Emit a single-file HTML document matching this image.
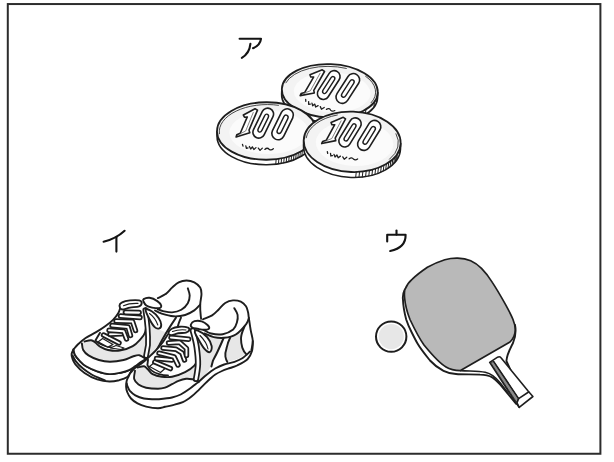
<!DOCTYPE html>
<html><head><meta charset="utf-8">
<style>
html,body{margin:0;padding:0;background:#fff;}
body{width:614px;height:462px;overflow:hidden;font-family:"Liberation Sans",sans-serif;}
svg{display:block;filter:blur(0.45px);}
.k{fill:none;stroke:#1e1e1e;stroke-width:1.6;stroke-linecap:round;stroke-linejoin:round;}
.w{fill:#fff;stroke:#1e1e1e;stroke-width:1.6;stroke-linecap:round;stroke-linejoin:round;}
.g{fill:#e4e4e4;stroke:#1e1e1e;stroke-width:1.6;stroke-linecap:round;stroke-linejoin:round;}
.t{fill:none;stroke:#1e1e1e;stroke-width:0.8;stroke-linecap:round;stroke-linejoin:round;}
.lab{fill:none;stroke:#141414;stroke-width:2.1;stroke-linecap:round;stroke-linejoin:round;}
#shoes .k,#shoes .w{stroke-width:1.9;}
</style></head>
<body>
<svg width="614" height="462" viewBox="0 0 614 462">
<rect x="0" y="0" width="614" height="462" fill="#fff"/>
<!-- frame -->
<rect x="7.8" y="4.05" width="592.6" height="449.7" fill="none" stroke="#2c2c2c" stroke-width="2"/>

<!-- labels -->
<g id="labels" class="lab">
<path d="M239.6 38.8 H261 C260.5 43 257 46.5 253 48.2"/>
<path d="M250.4 43.8 C249.8 50 246.5 55 241.8 57.8"/>
<path d="M124.6 230.8 C119 236 111 240 103.6 241.8"/>
<path d="M116.4 237.2 V251.6"/>
<path d="M396.5 230.5 V234.6"/>
<path d="M387.2 241.4 V234.8 H405.6 C405.8 242.5 401 248.8 390.2 251"/>
</g>

<!-- COINS -->
<g id="coins">
<g transform="translate(329.8 90.8) rotate(2.2)">
<path class="w" d="M-48 0 V5 A48 26.7 0 0 0 48 5 V0 Z"/>
<path class="t" style="stroke-width:1" d="M45.1 9.1 l-0.4 5.0 M36.8 17.2 l-0.4 5.0 M24.0 23.1 l-0.4 5.0 "/>
<ellipse cx="0" cy="0" rx="48" ry="26.7" fill="#f3f3f3" stroke="#1e1e1e" stroke-width="1.8"/>
<ellipse cx="2.4000000000000004" cy="1.335" rx="38.400000000000006" ry="20.025" fill="#fbfbfb" stroke="none"/>
<path class="t" d="M-44.2 -6.3 A45.8 24.5 0 0 1 15.7 -23.0"/>
<path class="t" d="M35.2 -15.9 A46.0 24.7 0 0 1 41.7 10.4"/>

<g transform="translate(-1.3 -5.7) rotate(7) scale(1.0)"><path d="M-20.2 -7.2 L-8.8 -14 L-6.3 -12.7 L-13.9 7.6 L-13 10.1 L-26.5 15 L-25.9 12.8 L-22.5 11.1 L-16.2 -5.5 L-19 -5.1 Z" fill="#fff" stroke="#1e1e1e" stroke-width="1.6" stroke-linejoin="round"/><path d="M-10.3 -10.6 L-17.2 8.6 L-23 11.9" fill="none" stroke="#555" stroke-width="0.7"/><g transform="translate(0 0) rotate(23.5)"><rect x="-5.9" y="-16.0" width="11.8" height="32" rx="5.9" ry="5.9" fill="#fff" stroke="#1e1e1e" stroke-width="1.6"/><rect x="-2.0" y="-9.75" width="4.0" height="19.5" rx="2.0" ry="2.6" fill="#fff" stroke="#1e1e1e" stroke-width="1.4"/></g><g transform="translate(19.4 0.3) rotate(23.5)"><rect x="-6.3" y="-16.5" width="12.6" height="33" rx="6.3" ry="6.3" fill="#fff" stroke="#1e1e1e" stroke-width="1.6"/><rect x="-2.2" y="-10.0" width="4.4" height="20" rx="2.2" ry="2.8600000000000003" fill="#fff" stroke="#1e1e1e" stroke-width="1.4"/></g><path class="t" transform="translate(-1 -3) rotate(6 -8 25)" style="stroke-width:1.3" d="M-19.8 22.1 l0.6 1.8 M-16.4 23.4 l0.7 2.6 l1.6 -0.6 M-12.8 24 l1.4 2.4 l1.6 -2.2 l1.6 2.6 l2 -2 M-3.8 25.2 l1.8 2.2 l2.2 -2.4 M2.8 26.2 c1.5 -1.6 3 -1.6 4.2 -0.4 c1.4 1 3 0.6 4.2 -0.6"/></g>
</g>
<g transform="translate(266.5 131) rotate(-0.5)">
<path class="w" d="M-49.5 0 V5 A49.5 28.75 0 0 0 49.5 5 V0 Z"/>
<path class="t" style="stroke-width:1" d="M35.6 20.0 l-0.4 5.0 M33.6 21.1 l-0.4 5.0 M31.6 22.1 l-0.4 5.0 M29.4 23.1 l-0.4 5.0 M27.2 24.0 l-0.4 5.0 M24.8 24.9 l-0.4 5.0 M22.4 25.6 l-0.4 5.0 M19.9 26.3 l-0.4 5.0 M17.4 26.9 l-0.4 5.0 M14.8 27.4 l-0.4 5.0 M12.1 27.9 l-0.4 5.0 M9.4 28.2 l-0.4 5.0 "/>
<ellipse cx="0" cy="0" rx="49.5" ry="28.75" fill="#f3f3f3" stroke="#1e1e1e" stroke-width="1.8"/>
<ellipse cx="2.475" cy="1.4375" rx="39.6" ry="21.5625" fill="#fbfbfb" stroke="none"/>
<path class="t" d="M-47.1 2.3 A47.3 26.55 0 0 1 12.2 -25.6"/>

<g transform="translate(-3.2 -7.9) rotate(3) scale(1.0)"><path d="M-20.2 -7.2 L-8.8 -14 L-6.3 -12.7 L-13.9 7.6 L-13 10.1 L-26.5 15 L-25.9 12.8 L-22.5 11.1 L-16.2 -5.5 L-19 -5.1 Z" fill="#fff" stroke="#1e1e1e" stroke-width="1.6" stroke-linejoin="round"/><path d="M-10.3 -10.6 L-17.2 8.6 L-23 11.9" fill="none" stroke="#555" stroke-width="0.7"/><g transform="translate(0 0) rotate(23.5)"><rect x="-5.9" y="-16.0" width="11.8" height="32" rx="5.9" ry="5.9" fill="#fff" stroke="#1e1e1e" stroke-width="1.6"/><rect x="-2.0" y="-9.75" width="4.0" height="19.5" rx="2.0" ry="2.6" fill="#fff" stroke="#1e1e1e" stroke-width="1.4"/></g><g transform="translate(19.4 0.3) rotate(23.5)"><rect x="-6.3" y="-16.5" width="12.6" height="33" rx="6.3" ry="6.3" fill="#fff" stroke="#1e1e1e" stroke-width="1.6"/><rect x="-2.2" y="-10.0" width="4.4" height="20" rx="2.2" ry="2.8600000000000003" fill="#fff" stroke="#1e1e1e" stroke-width="1.4"/></g><path class="t" transform="" style="stroke-width:1.3" d="M-19.8 22.1 l0.6 1.8 M-16.4 23.4 l0.7 2.6 l1.6 -0.6 M-12.8 24 l1.4 2.4 l1.6 -2.2 l1.6 2.6 l2 -2 M-3.8 25.2 l1.8 2.2 l2.2 -2.4 M2.8 26.2 c1.5 -1.6 3 -1.6 4.2 -0.4 c1.4 1 3 0.6 4.2 -0.6"/></g>
</g>
<g transform="translate(352.2 141.8) rotate(2)">
<path class="w" d="M-48.5 0 V5.5 A48.5 30.2 0 0 0 48.5 5.5 V0 Z"/>
<path class="t" style="stroke-width:1" d="M45.6 10.3 l-0.4 5.5 M44.3 12.3 l-0.4 5.5 M42.8 14.2 l-0.4 5.5 M41.1 16.0 l-0.4 5.5 M39.2 17.8 l-0.4 5.5 M37.2 19.4 l-0.4 5.5 M34.9 21.0 l-0.4 5.5 M32.5 22.4 l-0.4 5.5 M29.9 23.8 l-0.4 5.5 M27.1 25.0 l-0.4 5.5 M24.3 26.2 l-0.4 5.5 M21.3 27.1 l-0.4 5.5 M18.2 28.0 l-0.4 5.5 M15.0 28.7 l-0.4 5.5 M11.7 29.3 l-0.4 5.5 M8.4 29.7 l-0.4 5.5 M5.1 30.0 l-0.4 5.5 "/>
<ellipse cx="0" cy="0" rx="48.5" ry="30.2" fill="#f3f3f3" stroke="#1e1e1e" stroke-width="1.8"/>
<ellipse cx="2.4250000000000003" cy="1.51" rx="38.800000000000004" ry="22.65" fill="#fbfbfb" stroke="none"/>
<path class="t" d="M-46.1 -2.4 A46.3 28.0 0 0 1 -15.8 -26.3"/>
<path class="t" d="M43.5 -9.6 A46.3 28.0 0 0 1 37.9 16.1"/>

<g transform="translate(-2.5 -9.3) rotate(6) scale(1.0)"><path d="M-20.2 -7.2 L-8.8 -14 L-6.3 -12.7 L-13.9 7.6 L-13 10.1 L-26.5 15 L-25.9 12.8 L-22.5 11.1 L-16.2 -5.5 L-19 -5.1 Z" fill="#fff" stroke="#1e1e1e" stroke-width="1.6" stroke-linejoin="round"/><path d="M-10.3 -10.6 L-17.2 8.6 L-23 11.9" fill="none" stroke="#555" stroke-width="0.7"/><g transform="translate(0 0) rotate(23.5)"><rect x="-5.9" y="-16.0" width="11.8" height="32" rx="5.9" ry="5.9" fill="#fff" stroke="#1e1e1e" stroke-width="1.6"/><rect x="-2.0" y="-9.75" width="4.0" height="19.5" rx="2.0" ry="2.6" fill="#fff" stroke="#1e1e1e" stroke-width="1.4"/></g><g transform="translate(19.4 0.3) rotate(23.5)"><rect x="-6.3" y="-16.5" width="12.6" height="33" rx="6.3" ry="6.3" fill="#fff" stroke="#1e1e1e" stroke-width="1.6"/><rect x="-2.2" y="-10.0" width="4.4" height="20" rx="2.2" ry="2.8600000000000003" fill="#fff" stroke="#1e1e1e" stroke-width="1.4"/></g><path class="t" transform="" style="stroke-width:1.3" d="M-19.8 22.1 l0.6 1.8 M-16.4 23.4 l0.7 2.6 l1.6 -0.6 M-12.8 24 l1.4 2.4 l1.6 -2.2 l1.6 2.6 l2 -2 M-3.8 25.2 l1.8 2.2 l2.2 -2.4 M2.8 26.2 c1.5 -1.6 3 -1.6 4.2 -0.4 c1.4 1 3 0.6 4.2 -0.6"/></g>
</g>
</g>

<!-- SHOES -->
<g id="shoes" style="stroke-width:1.7">
<g id="backshoe">
<path d="M73.5 349.5 C74.2 348.7 75.8 346.4 77.8 344.5 C79.8 342.6 82.5 340.1 85.6 338.0 C88.6 335.9 92.8 334.1 96.1 332.1 C99.4 330.2 102.4 328.4 105.2 326.3 C108.0 324.2 110.8 322.0 113.0 319.8 C115.2 317.6 117.0 315.2 118.2 313.2 C119.4 311.2 118.2 310.1 120.2 308.0 C122.2 305.9 126.1 301.8 130.0 300.4 C133.9 299.0 139.0 299.9 143.6 299.5 C148.2 299.1 154.1 299.0 157.8 298.1 C161.5 297.2 163.2 295.9 165.6 294.1 C168.0 292.4 169.9 289.6 172.1 287.6 C174.3 285.7 176.3 283.6 178.7 282.4 C181.1 281.2 183.9 280.5 186.5 280.5 C189.1 280.5 192.0 281.2 194.3 282.4 C196.6 283.6 199.0 285.7 200.2 287.6 C201.4 289.6 201.5 291.3 201.5 294.1 C201.5 296.9 200.3 300.9 200.2 304.6 C200.1 308.3 200.3 312.1 200.8 316.3 C201.3 320.5 202.3 325.2 203.0 330.0 C203.7 334.8 207.2 340.0 205.0 345.0 C202.8 350.0 196.7 355.5 190.0 360.0 C183.3 364.5 173.3 369.3 165.0 372.0 C156.7 374.7 144.2 375.3 140.0 376.0 L119 380.2 L97 379.4 L84.5 373 L72.4 358.5 Z" fill="#fff" stroke="none"/>
<path class="w" d="M73.5 349.5 C73.2 350.2 71.8 352.5 71.6 354.0 C71.4 355.5 71.8 356.8 72.4 358.5 C73.0 360.2 73.4 361.9 75.4 364.3 C77.4 366.7 80.9 370.5 84.5 373.0 C88.1 375.5 93.0 378.0 97.2 379.4 C101.4 380.8 105.7 381.4 109.4 381.5 C113.1 381.6 116.2 380.9 119.2 380.2 C122.2 379.4 125.3 378.4 127.3 377.0 C129.3 375.6 130.4 372.4 131.0 371.5 L135 366.4 L146 358.8  C145.1 359.4 142.3 361.0 140.5 362.3 C138.7 363.6 136.9 365.1 135.0 366.4 C133.1 367.7 131.2 369.2 129.0 370.2 C126.8 371.2 124.9 371.9 121.6 372.5 C118.3 373.1 113.5 374.3 109.4 374.1 C105.3 373.9 101.1 372.6 97.2 371.3 C93.3 370.0 89.0 368.1 86.0 366.3 C83.0 364.5 81.1 362.3 79.3 360.4 C77.5 358.5 76.0 356.8 75.0 355.0 C74.0 353.2 73.8 350.4 73.5 349.5 Z" />
<path class="k" d="M72.6 355.5 C73.1 356.4 73.8 358.6 75.5 360.8 C77.2 363.0 80.2 366.3 83.0 368.6 C85.8 370.9 89.3 373.2 92.0 374.8 C94.7 376.4 96.8 377.1 99.0 378.0 C101.2 378.9 104.0 380.0 105.0 380.4" />
<path d="M73.5 349.5 C73.8 350.4 74.0 353.2 75.0 355.0 C76.0 356.8 77.5 358.5 79.3 360.4 C81.1 362.3 83.0 364.5 86.0 366.3 C89.0 368.1 93.3 370.0 97.2 371.3 C101.1 372.6 105.3 373.9 109.4 374.1 C113.5 374.3 118.3 373.1 121.6 372.5 C124.9 371.9 126.8 371.2 129.0 370.2 C131.2 369.2 133.1 367.7 135.0 366.4 C136.9 365.1 138.7 363.6 140.5 362.3 C142.3 361.0 145.1 359.4 146.0 358.8 L146.9 321 L120.2 308  C119.9 308.9 119.4 311.2 118.2 313.2 C117.0 315.2 115.2 317.6 113.0 319.8 C110.8 322.0 108.0 324.2 105.2 326.3 C102.4 328.4 99.4 330.2 96.1 332.1 C92.8 334.1 88.6 335.9 85.6 338.0 C82.5 340.1 79.8 342.6 77.8 344.5 C75.8 346.4 74.2 348.7 73.5 349.5 Z" fill="#fff" stroke="none"/>
<path d="M81.9 343.5 C82.1 344.6 82.1 348.0 83.2 350.0 C84.3 352.0 85.9 353.7 88.5 355.4 C91.1 357.1 95.3 358.9 98.9 360.0 C102.5 361.1 105.9 361.7 110.0 361.7 C114.1 361.7 119.8 360.9 123.6 360.0 C127.4 359.1 130.2 357.3 132.8 356.5 C135.4 355.7 137.2 354.8 139.3 355.2 C141.5 355.6 144.6 358.2 145.7 358.8 L147.5 340 L146.9 321  C146.6 323.0 146.0 329.8 144.9 332.8 C143.8 335.9 142.4 337.1 140.4 339.3 C138.4 341.5 136.2 344.2 132.8 346.1 C129.4 348.0 123.8 350.0 119.7 350.6 C115.6 351.2 111.2 350.6 108.0 350.0 C104.8 349.4 102.3 347.9 100.2 346.7 C98.1 345.5 97.1 343.9 95.6 342.8 C94.1 341.7 92.9 340.4 91.1 340.2 C89.2 340.0 85.6 341.3 84.5 341.5 Z" fill="#e7e7e7" stroke="none"/>
<path class="k" d="M84.5 341.5 C85.6 341.3 89.2 340.0 91.1 340.2 C92.9 340.4 94.1 341.7 95.6 342.8 C97.1 343.9 98.1 345.5 100.2 346.7 C102.3 347.9 104.8 349.4 108.0 350.0 C111.2 350.6 115.6 351.2 119.7 350.6 C123.8 350.0 129.4 348.0 132.8 346.1 C136.2 344.2 138.4 341.5 140.4 339.3 C142.4 337.1 143.8 335.9 144.9 332.8 C146.0 329.8 146.6 323.0 146.9 321.0" />
<path class="k" d="M81.9 343.5 C82.1 344.6 82.1 348.0 83.2 350.0 C84.3 352.0 85.9 353.7 88.5 355.4 C91.1 357.1 95.3 358.9 98.9 360.0 C102.5 361.1 105.9 361.7 110.0 361.7 C114.1 361.7 119.8 360.9 123.6 360.0 C127.4 359.1 130.2 357.3 132.8 356.5 C135.4 355.7 137.2 354.8 139.3 355.2 C141.5 355.6 144.6 358.2 145.7 358.8" />
<path class="k" d="M73.5 349.5 C73.8 350.4 74.0 353.2 75.0 355.0 C76.0 356.8 77.5 358.5 79.3 360.4 C81.1 362.3 83.0 364.5 86.0 366.3 C89.0 368.1 93.3 370.0 97.2 371.3 C101.1 372.6 105.3 373.9 109.4 374.1 C113.5 374.3 118.3 373.1 121.6 372.5 C124.9 371.9 126.8 371.2 129.0 370.2 C131.2 369.2 133.1 367.7 135.0 366.4 C136.9 365.1 138.7 363.6 140.5 362.3 C142.3 361.0 145.1 359.4 146.0 358.8" />
<path class="k" d="M73.5 349.5 C74.2 348.7 75.8 346.4 77.8 344.5 C79.8 342.6 82.5 340.1 85.6 338.0 C88.6 335.9 92.8 334.1 96.1 332.1 C99.4 330.2 102.4 328.4 105.2 326.3 C108.0 324.2 110.8 322.0 113.0 319.8 C115.2 317.6 117.0 315.2 118.2 313.2 C119.4 311.2 119.9 308.9 120.2 308.0" />
<path d="M148 311 L160 313.5 L168 316.3 L176 317.6 L169.2 327.4 L163.3 336.2 L159.4 345 L155 352 L147 357 L148.5 345 L148.5 331 Z" fill="#e7e7e7" stroke="none"/>
<path d="M157.8 298.1 C159.1 297.4 163.2 295.9 165.6 294.1 C168.0 292.4 169.9 289.6 172.1 287.6 C174.3 285.7 176.3 283.6 178.7 282.4 C181.1 281.2 183.9 280.5 186.5 280.5 C189.1 280.5 192.0 281.2 194.3 282.4 C196.6 283.6 199.0 285.7 200.2 287.6 C201.4 289.6 201.5 291.3 201.5 294.1 C201.5 296.9 200.3 300.9 200.2 304.6 C200.1 308.3 200.3 312.1 200.8 316.3 C201.3 320.5 202.6 327.7 203.0 330.0 L185 340 L160 330 L150 312 Z" fill="#fff" stroke="none"/>
<path class="k" d="M157.8 298.1 C159.1 297.4 163.2 295.9 165.6 294.1 C168.0 292.4 169.9 289.6 172.1 287.6 C174.3 285.7 176.3 283.6 178.7 282.4 C181.1 281.2 183.9 280.5 186.5 280.5 C189.1 280.5 192.0 281.2 194.3 282.4 C196.6 283.6 199.0 285.7 200.2 287.6 C201.4 289.6 201.5 291.3 201.5 294.1 C201.5 296.9 200.3 300.9 200.2 304.6 C200.1 308.3 200.3 312.1 200.8 316.3 C201.3 320.5 202.6 327.7 203.0 330.0" />
<path class="k" d="M187.8 288.3 C188.1 289.5 189.7 293.0 189.7 295.5 C189.7 298.0 189.2 300.9 187.8 303.3 C186.4 305.7 183.9 308.3 181.3 309.8 C178.7 311.3 175.2 312.2 172.1 312.4 C169.0 312.6 165.4 311.6 163.0 311.1 C160.6 310.6 158.7 309.6 157.8 309.3" />
<path class="k" d="M200.2 304.6 C199.2 305.6 196.8 308.7 194.3 310.4 C191.8 312.1 188.7 314.0 185.2 315.0 C181.7 316.0 177.4 316.5 173.5 316.3 C169.6 316.1 164.8 314.7 161.7 313.7 C158.6 312.7 156.1 311.0 155.0 310.5" />
<path class="k" d="M176 317.6 C171 325 165 334 159.4 345 L155 353" />
<path class="k" d="M181 317.6 C179.5 321 178 324.4 177.5 328" />
<path class="k" d="M100 332.8 L95.4 340.6 C100 345 108 347.5 122.1 349.1" />
<path class="w" d="M98 341.9 L102.6 338.6 L113 344.5 L107.8 347.1 Z" style="stroke-width:1.2"/>
<path class="w" d="M110.5 348 L116 345.5 L124 348 L121 349.5 Z" style="stroke-width:1.2"/>
<path d="M103.5 335 L119 343" stroke="#1e1e1e" stroke-width="5.4" stroke-linecap="round" fill="none"/><path d="M103.5 335 L119 343" stroke="#fff" stroke-width="1.9" stroke-linecap="round" fill="none"/>
<path d="M110 334.2 L121.5 333.8" stroke="#1e1e1e" stroke-width="5.4" stroke-linecap="round" fill="none"/><path d="M110 334.2 L121.5 333.8" stroke="#fff" stroke-width="1.9" stroke-linecap="round" fill="none"/>
<path d="M109 330.2 L123.5 331.2 L126.5 339" stroke="#1e1e1e" stroke-width="5.4" stroke-linecap="round" stroke-linejoin="round" fill="none"/><path d="M109 330.2 L123.5 331.2 L126.5 339" stroke="#fff" stroke-width="1.9" stroke-linecap="round" stroke-linejoin="round" fill="none"/>
<path d="M112 325.5 L128 327 L130.5 335.5" stroke="#1e1e1e" stroke-width="5.4" stroke-linecap="round" stroke-linejoin="round" fill="none"/><path d="M112 325.5 L128 327 L130.5 335.5" stroke="#fff" stroke-width="1.9" stroke-linecap="round" stroke-linejoin="round" fill="none"/>
<path d="M116 321 L132.5 321.5 L135.5 330.5" stroke="#1e1e1e" stroke-width="5.4" stroke-linecap="round" stroke-linejoin="round" fill="none"/><path d="M116 321 L132.5 321.5 L135.5 330.5" stroke="#fff" stroke-width="1.9" stroke-linecap="round" stroke-linejoin="round" fill="none"/>
<path d="M120.5 316 L140 317.5" stroke="#1e1e1e" stroke-width="5.5" stroke-linecap="round" fill="none"/><path d="M120.5 316 L140 317.5" stroke="#fff" stroke-width="2.0" stroke-linecap="round" fill="none"/>
<path d="M125.5 312.3 L139 312.6" stroke="#1e1e1e" stroke-width="5.7" stroke-linecap="round" fill="none"/><path d="M125.5 312.3 L139 312.6" stroke="#fff" stroke-width="2.2" stroke-linecap="round" fill="none"/>
<path d="M145.3 310 C147 320 148.5 332 148 345 L146 356" stroke="#1e1e1e" stroke-width="5.7" stroke-linecap="round" stroke-linejoin="round" fill="none"/><path d="M145.3 310 C147 320 148.5 332 148 345 L146 356" stroke="#fff" stroke-width="2.2" stroke-linecap="round" stroke-linejoin="round" fill="none"/>
<path class="w" d="M119.5 305.6 C119.5 304.4 120.3 303.3 122.1 302.4 C123.8 301.5 127.2 300.7 130.0 300.4 C132.8 300.1 137.2 300.0 139.1 300.4 C141.0 300.8 141.7 302.0 141.7 303.0 C141.7 304.0 141.0 305.5 139.1 306.3 C137.2 307.1 132.8 307.1 130.0 307.6 C127.2 308.1 123.8 309.8 122.1 309.5 C120.3 309.2 119.5 306.8 119.5 305.6 Z" />
<path class="k" d="M123.5 305.8 C128 303.6 133 303.2 138 303.4" style="stroke-width:1.1"/>
<path class="w" d="M145.6 309.5 C146.0 308.2 149.9 310.1 152.1 311.5 C154.3 312.9 157.1 315.8 158.6 318.0 C160.1 320.2 161.1 322.8 161.2 324.5 C161.3 326.2 160.4 328.0 159.3 328.4 C158.2 328.8 156.3 328.6 154.7 327.1 C153.1 325.6 151.0 322.2 149.5 319.3 C148.0 316.4 145.2 310.8 145.6 309.5 Z" />
<path class="k" d="M149.5 313.5 C153 316 156 320 157.8 325" style="stroke-width:1.1"/>
<path class="w" d="M143.6 299.1 C144.6 298.5 147.2 297.5 149.5 297.8 C151.8 298.1 155.4 299.8 157.3 301.1 C159.2 302.4 160.9 304.4 161.2 305.6 C161.5 306.8 160.8 307.9 159.3 308.2 C157.8 308.5 154.3 308.0 152.1 307.6 C149.9 307.2 147.7 306.6 146.3 305.6 C144.9 304.6 144.1 302.8 143.6 301.7 C143.1 300.6 142.6 299.8 143.6 299.1 Z" />
</g>
<g id="frontshoe">
<path d="M130.0 373.5 C130.8 372.3 131.6 371.5 132.5 370.5 C133.4 369.5 134.0 368.8 135.6 367.5 C137.2 366.2 140.1 364.5 142.1 363.0 C144.1 361.5 145.1 360.6 147.4 358.5 C149.7 356.4 153.6 352.9 156.1 350.2 C158.6 347.5 160.6 345.0 162.6 342.4 C164.6 339.8 166.3 336.8 167.8 334.5 C169.3 332.2 168.4 329.9 171.7 328.7 C174.9 327.5 183.4 328.8 187.3 327.4 C191.2 326.0 192.6 322.0 195.2 320.6 C197.8 319.2 200.2 320.2 203.0 319.3 C205.8 318.4 209.5 317.0 212.1 315.4 C214.7 313.8 216.5 311.6 218.7 309.5 C220.9 307.4 222.8 304.5 225.2 303.0 C227.6 301.5 230.4 300.6 233.0 300.4 C235.6 300.2 238.6 300.7 240.8 301.7 C243.0 302.7 244.8 304.6 246.0 306.3 C247.2 308.0 247.5 310.2 248.0 312.1 C248.5 314.0 248.3 314.5 248.8 317.6 C249.3 320.7 250.1 326.7 250.8 330.6 C251.5 334.5 252.7 337.8 252.8 341.1 C252.9 344.4 251.5 348.6 251.4 350.2 C251.3 351.8 252.7 349.5 252.0 351.0 C251.3 352.5 250.0 356.9 247.5 359.3 C245.0 361.7 240.0 364.1 237.1 365.5 C234.2 366.9 232.5 367.1 230.0 368.0 C227.5 368.9 224.4 369.9 222.0 371.0 C219.6 372.1 217.3 373.2 215.3 374.5 C213.3 375.8 211.7 377.4 209.9 379.0 C208.1 380.6 206.3 382.4 204.5 384.2 C202.7 386.0 201.3 387.5 199.1 389.6 C196.9 391.7 194.2 394.5 191.5 396.6 C188.8 398.7 186.1 400.8 182.8 402.2 C179.6 403.6 175.0 404.5 172.0 405.3 C169.0 406.1 167.3 406.3 165.0 406.8 C162.7 407.3 161.2 408.2 158.0 408.2 C154.8 408.2 149.5 407.4 146.1 406.6 C142.7 405.8 140.0 404.8 137.5 403.4 C135.0 402.0 132.7 400.4 131.0 398.5 C129.3 396.6 128.0 394.0 127.2 392.0 C126.4 390.0 126.2 388.4 126.1 386.6 C126.0 384.8 126.3 382.7 126.6 381.2 C126.9 379.7 127.4 378.8 128.0 377.5 C128.6 376.2 129.2 374.7 130.0 373.5 Z" fill="#fff" stroke="none"/>
<path class="k" d="M130.0 373.5 C129.7 374.2 128.6 376.2 128.0 377.5 C127.4 378.8 126.9 379.7 126.6 381.2 C126.3 382.7 126.0 384.8 126.1 386.6 C126.2 388.4 126.4 390.0 127.2 392.0 C128.0 394.0 129.3 396.6 131.0 398.5 C132.7 400.4 135.0 402.0 137.5 403.4 C140.0 404.8 142.7 405.8 146.1 406.6 C149.5 407.4 154.8 408.2 158.0 408.2 C161.2 408.2 162.7 407.3 165.0 406.8 C167.3 406.3 169.0 406.1 172.0 405.3 C175.0 404.5 179.6 403.6 182.8 402.2 C186.1 400.8 188.8 398.7 191.5 396.6 C194.2 394.5 196.9 391.7 199.1 389.6 C201.3 387.5 202.7 386.0 204.5 384.2 C206.3 382.4 208.1 380.6 209.9 379.0 C211.7 377.4 213.3 375.8 215.3 374.5 C217.3 373.2 219.6 372.1 222.0 371.0 C224.4 369.9 227.5 368.9 230.0 368.0 C232.5 367.1 234.2 366.9 237.1 365.5 C240.0 364.1 245.0 361.7 247.5 359.3 C250.0 356.9 251.1 354.0 252.0 351.0 C252.9 348.0 252.7 342.8 252.8 341.1" />
<path d="M199 333 L211.1 336 L222.8 339.8 L217.6 351.5 L212.4 362 L209 370 L200 381 L198.5 354 Z" fill="#e7e7e7" stroke="none"/>
<path d="M230 338 L243.6 328 L241 338.5 L242.3 347.6 L246.2 354.1 L237.1 359.3 L227.3 361.9 L225.4 356.7 L226.7 347.6 Z" fill="#e7e7e7" stroke="none"/>
<path d="M135.0 370.8 C134.9 372.2 133.6 376.8 134.2 379.1 C134.8 381.4 136.5 383.1 138.5 384.5 C140.5 385.9 142.8 387.0 146.1 387.7 C149.3 388.4 154.8 388.8 158.0 388.8 C161.2 388.8 162.7 388.5 165.0 387.7 C167.3 386.9 169.8 385.3 172.0 384.2 C174.2 383.1 176.2 381.8 178.5 380.9 C180.8 380.0 183.8 379.1 186.1 378.8 C188.4 378.5 191.5 379.2 192.6 379.3 L198.5 371 L198.5 358  C197.8 359.3 196.5 363.2 194.3 365.6 C192.1 368.0 188.8 370.2 185.1 372.1 C181.4 374.0 176.0 375.9 172.1 376.7 C168.2 377.5 164.9 377.1 161.7 376.7 C158.4 376.3 154.9 375.3 152.6 374.1 C150.3 372.9 149.4 370.8 148.0 369.5 C146.6 368.2 145.8 366.6 144.1 366.3 C142.4 366.0 138.7 367.4 137.6 367.6 Z" fill="#e7e7e7" stroke="none"/>
<path class="k" d="M137.6 367.6 C138.7 367.4 142.4 366.0 144.1 366.3 C145.8 366.6 146.6 368.2 148.0 369.5 C149.4 370.8 150.3 372.9 152.6 374.1 C154.9 375.3 158.4 376.3 161.7 376.7 C164.9 377.1 168.2 377.5 172.1 376.7 C176.0 375.9 181.4 374.0 185.1 372.1 C188.8 370.2 192.1 368.0 194.3 365.6 C196.5 363.2 197.8 359.3 198.5 358.0" />
<path class="k" d="M135.0 370.8 C134.9 372.2 133.6 376.8 134.2 379.1 C134.8 381.4 136.5 383.1 138.5 384.5 C140.5 385.9 142.8 387.0 146.1 387.7 C149.3 388.4 154.8 388.8 158.0 388.8 C161.2 388.8 162.7 388.5 165.0 387.7 C167.3 386.9 169.8 385.3 172.0 384.2 C174.2 383.1 176.2 381.8 178.5 380.9 C180.8 380.0 183.8 379.1 186.1 378.8 C188.4 378.5 190.4 378.9 192.6 379.3 C194.8 379.8 198.0 381.1 199.1 381.5" />
<path class="k" d="M126.8 383.5 C126.9 383.9 126.9 384.8 127.4 386.0 C127.9 387.2 128.6 389.3 129.9 390.9 C131.2 392.4 133.0 394.0 135.3 395.3 C137.6 396.6 140.5 397.8 143.9 398.5 C147.3 399.2 152.3 399.3 155.8 399.3 C159.3 399.3 162.3 398.8 165.0 398.5 C167.7 398.2 169.4 398.2 172.0 397.5 C174.6 396.8 177.8 395.9 180.7 394.5 C183.6 393.1 186.8 390.9 189.3 389.1 C191.8 387.3 194.2 385.2 195.8 383.9 C197.4 382.6 197.7 382.7 199.1 381.5 C200.5 380.3 202.8 378.0 204.5 376.5 C206.2 375.0 207.7 373.8 209.5 372.5 C211.3 371.2 212.8 369.8 215.2 368.5 C217.6 367.2 220.9 365.6 224.1 364.5 C227.3 363.4 231.5 362.8 234.5 361.8 C237.5 360.8 239.7 360.0 242.3 358.3 C244.9 356.6 248.8 352.6 250.1 351.5" />
<path class="k" d="M130.0 373.5 C130.4 373.0 131.6 371.5 132.5 370.5 C133.4 369.5 134.0 368.8 135.6 367.5 C137.2 366.2 140.1 364.5 142.1 363.0 C144.1 361.5 145.1 360.6 147.4 358.5 C149.7 356.4 153.6 352.9 156.1 350.2 C158.6 347.5 160.6 345.0 162.6 342.4 C164.6 339.8 166.9 335.8 167.8 334.5" />
<path class="k" d="M203.0 319.3 C204.5 318.6 209.5 317.0 212.1 315.4 C214.7 313.8 216.5 311.6 218.7 309.5 C220.9 307.4 222.8 304.5 225.2 303.0 C227.6 301.5 230.4 300.6 233.0 300.4 C235.6 300.2 238.6 300.7 240.8 301.7 C243.0 302.7 244.8 304.6 246.0 306.3 C247.2 308.0 247.5 310.2 248.0 312.1 C248.5 314.0 248.3 314.5 248.8 317.6 C249.3 320.7 250.1 326.7 250.8 330.6 C251.5 334.5 252.7 337.8 252.8 341.1 C252.9 344.4 251.6 348.7 251.4 350.2" />
<path class="k" d="M234.3 308.2 C234.9 309.3 237.2 312.4 237.6 314.8 C238.0 317.2 237.6 320.2 236.9 322.6 C236.2 325.1 235.5 327.6 233.2 329.5 C230.8 331.4 226.5 333.5 222.8 334.2 C219.1 334.9 214.4 334.3 211.1 333.5 C207.8 332.7 204.3 330.2 203.0 329.5" />
<path class="k" d="M248.8 318.0 C248.4 319.0 248.4 321.4 246.2 324.1 C244.0 326.9 239.5 332.2 235.8 334.5 C232.1 336.8 227.8 337.4 224.1 337.8 C220.4 338.2 217.0 337.8 213.7 337.1 C210.4 336.4 206.0 334.1 204.5 333.5" />
<path class="k" d="M223.4 338.5 C221.5 343 219.5 347.5 217.6 351.5 C216 355 214 358.5 213 360.6 L211.4 366.5" style="stroke-width:2"/>
<path class="k" d="M230.2 337.5 C228.5 341 227.3 344.5 226.7 347.6 C225.6 351 225 354 225.4 356.7 C225.8 359 226.3 360.5 227.3 361.9" />
<path class="k" d="M244.5 326.5 C242.5 331 241 335 241 338.5 C241 342 241.5 345 242.3 347.6 C243.2 350.5 244.5 352.5 246.6 354.6" />
<path class="k" d="M148 359.8 L147.4 365 C149 369 153 372.5 159.1 374.1 C162 375 165 375.4 168 375.4" />
<path class="w" d="M149.5 366.5 L154.5 362.5 L165 368.5 L160.5 372.5 Z" style="stroke-width:1.2"/>
<path d="M154.8 362 L170.4 368.6" stroke="#1e1e1e" stroke-width="5.4" stroke-linecap="round" fill="none"/><path d="M154.8 362 L170.4 368.6" stroke="#fff" stroke-width="1.9" stroke-linecap="round" fill="none"/>
<path d="M156.5 358.5 L172 360" stroke="#1e1e1e" stroke-width="5.4" stroke-linecap="round" fill="none"/><path d="M156.5 358.5 L172 360" stroke="#fff" stroke-width="1.9" stroke-linecap="round" fill="none"/>
<path d="M159 353.2 L174 356.8 L178 365" stroke="#1e1e1e" stroke-width="5.4" stroke-linecap="round" stroke-linejoin="round" fill="none"/><path d="M159 353.2 L174 356.8 L178 365" stroke="#fff" stroke-width="1.9" stroke-linecap="round" stroke-linejoin="round" fill="none"/>
<path d="M163 348 L176 349.2 L182 353 L184.5 360" stroke="#1e1e1e" stroke-width="5.4" stroke-linecap="round" stroke-linejoin="round" fill="none"/><path d="M163 348 L176 349.2 L182 353 L184.5 360" stroke="#fff" stroke-width="1.9" stroke-linecap="round" stroke-linejoin="round" fill="none"/>
<path d="M168.5 343 L179.5 342.2 L186.5 348.5 L186.5 355.5" stroke="#1e1e1e" stroke-width="5.4" stroke-linecap="round" stroke-linejoin="round" fill="none"/><path d="M168.5 343 L179.5 342.2 L186.5 348.5 L186.5 355.5" stroke="#fff" stroke-width="1.9" stroke-linecap="round" stroke-linejoin="round" fill="none"/>
<path d="M171 337.6 L188.6 339.3" stroke="#1e1e1e" stroke-width="5.5" stroke-linecap="round" fill="none"/><path d="M171 337.6 L188.6 339.3" stroke="#fff" stroke-width="2.0" stroke-linecap="round" fill="none"/>
<path d="M192.8 330.6 C194.5 337 196 342 196.7 347.6 C197.6 354 198.2 359 198 364.5 C197.8 369 197.3 372 196 379" stroke="#1e1e1e" stroke-width="6.2" stroke-linecap="round" stroke-linejoin="round" fill="none"/><path d="M192.8 330.6 C194.5 337 196 342 196.7 347.6 C197.6 354 198.2 359 198 364.5 C197.8 369 197.3 372 196 379" stroke="#fff" stroke-width="2.7" stroke-linecap="round" stroke-linejoin="round" fill="none"/>
<path class="w" d="M168.4 333.2 C168.4 332.1 169.8 329.8 171.7 328.7 C173.5 327.6 176.9 326.9 179.5 326.7 C182.1 326.5 185.7 326.8 187.3 327.4 C188.9 327.9 189.5 329.1 189.3 330.0 C189.1 330.9 187.8 332.1 186.0 332.6 C184.2 333.1 180.6 332.8 178.2 333.2 C175.8 333.6 173.3 335.2 171.7 335.2 C170.1 335.2 168.4 334.3 168.4 333.2 Z" />
<path class="k" d="M172.5 331.5 C177 329.8 182 329.6 186 330" style="stroke-width:1.1"/>
<path class="w" d="M198.0 330.6 C200.1 331.5 204.8 334.5 207.1 337.1 C209.4 339.7 211.2 343.8 211.7 346.3 C212.1 348.8 211.0 351.7 209.8 352.1 C208.6 352.5 206.5 351.2 204.5 348.9 C202.5 346.6 199.6 341.3 198.0 338.5 C196.4 335.7 194.8 333.2 194.8 331.9 C194.8 330.6 195.9 329.7 198.0 330.6 Z" />
<path class="k" d="M200 335.5 C204 339.5 207 344 208 349" style="stroke-width:1.1"/>
<path class="w" d="M190.9 324.5 C191.3 323.4 192.7 321.7 194.5 321.2 C196.3 320.7 199.5 320.7 201.7 321.3 C203.9 321.9 206.3 323.8 207.5 325.0 C208.7 326.2 209.6 327.7 209.1 328.5 C208.6 329.3 206.2 329.8 204.3 329.8 C202.4 329.9 199.8 329.2 197.8 328.8 C195.8 328.4 193.3 328.2 192.2 327.5 C191.0 326.8 190.5 325.6 190.9 324.5 Z" />
</g>
</g>

<!-- PADDLE -->
<g id="paddle">
<circle cx="391.2" cy="336.6" r="15.2" fill="#fff" stroke="#1e1e1e" stroke-width="2"/>
<circle cx="391.2" cy="336.6" r="12.6" fill="#e7e7e7" stroke="none"/>
<!-- wood blade outer -->
<path class="w" style="stroke-width:1.9" d="M404.9 289.5 C403 293 402.6 297 403 300 C403.2 306 404.5 313 406.2 319.5 C408 325 410 329 411.5 332 C414 337 416 341 417.5 343.5 C421 349.5 426 355.5 430 360.5 C434 365 439 368.5 443.5 370.8 C447 372.6 451 373.6 456 374 C462 374.5 470 374.3 480 374.6 C485 374.6 489 375.5 492.7 377.6 C495.5 379.5 498 382 500.3 384.6 L516.2 403.8 L522 396 L506.4 361 C507 354 510 349 513 343 C515.5 337 516 330 515 325 Z"/>
<!-- inner wood line (continues from rubber corner) -->
<path class="k" style="stroke-width:1.6" d="M460.5 370.6 C464 371 467 371 470 371 C476 371.2 481 371.4 485.2 372.3 C488 373 490.5 374 492.7 375.6 C495.5 377.6 498 380 500.3 383 L508 393"/>
<!-- rubber -->
<path d="M404.7 290 C407 284 409.5 281.5 412.3 279.2 C417 274.5 422 271 427.4 267.3 C433 264 439 261.5 444.8 259.7 C449 258.6 453 258.1 457.7 258.2 C462 258.3 466.5 259 470.7 260.8 C474.5 262.5 478 265 481.5 268.4 C485.5 272.5 489 277 492.3 282.4 C497 289.5 501 296.5 505.3 304.1 C508.3 309.5 511 314.5 512.9 319.2 C514.5 323 515.3 326.5 515.2 330 C515.2 334 513.5 338.5 510 342 L460.5 370.6 C455 370.5 450 369.5 446 367 C440 363.5 433 356 424 345 C419 338 414 328 410 319.5 C407 312 405.2 305 404.6 298 C404.3 295 404.3 292.5 404.7 290 Z" fill="#b9b9b9" stroke="#1e1e1e" stroke-width="1.7" stroke-linejoin="round"/>
<!-- handle -->
<path class="w" d="M489.7 362.4 L497.6 357.2 Q499.6 356 501 357.8 L528.3 391.2 L532.9 396.5 L519.2 407.3 L515.8 402.6 Z"/>
<path d="M490.5 362.6 L493.6 361.4 L518.6 398.6 L516.6 402.4 Z" fill="#8a8a8a" stroke="#1e1e1e" stroke-width="0.9" stroke-linejoin="round"/>
<path class="k" d="M493.6 361.4 L518.6 398.6 L528.6 392"/>
<path class="k" d="M518.6 398.6 L517 402.8 L519.2 407.3"/>
</g>
</svg>
</body></html>
